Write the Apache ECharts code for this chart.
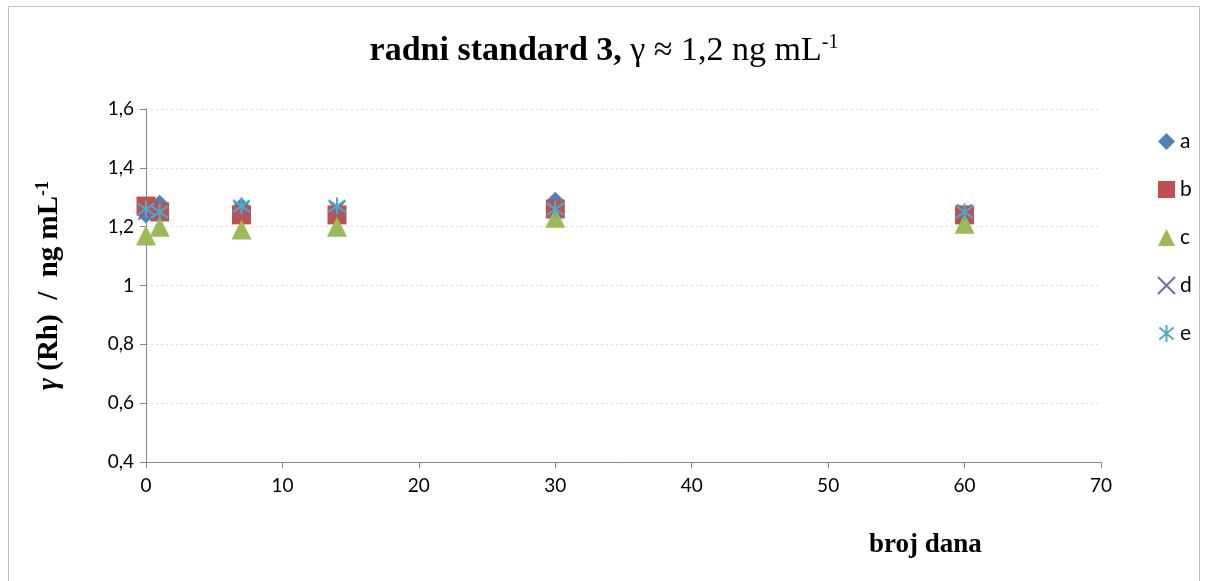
<!DOCTYPE html>
<html>
<head>
<meta charset="utf-8">
<script src="https://cdn.jsdelivr.net/npm/echarts@6/dist/echarts.min.js"></script>
<style>
  html, body { margin: 0; padding: 0; background: #fff; }
  #chart { width: 1208px; height: 581px; }
</style>
</head>
<body>
<div id="chart"></div>
<script>
// dani mjerenja
const days = [0, 1, 7, 14, 30, 60];
// izmjerene koncentracije po seriji
const seriesA = [1.24, 1.28, 1.27, 1.24, 1.29, 1.24];
const seriesB = [1.27, 1.25, 1.24, 1.24, 1.26, 1.24];
const seriesC = [1.17, 1.20, 1.19, 1.20, 1.23, 1.21];
const seriesD = [1.25, 1.25, 1.26, 1.26, 1.26, 1.25];
const seriesE = [1.26, 1.25, 1.27, 1.27, 1.26, 1.25];
const seriesNames = ['a', 'b', 'c', 'd', 'e'];
const yTicks = [0.4, 0.6, 0.8, 1, 1.2, 1.4, 1.6];
const xTicks = [0, 10, 20, 30, 40, 50, 60, 70];

const labelFont = 'Lato, "Liberation Sans", sans-serif';
const serif = '"Liberation Serif", "DejaVu Serif", serif';

const crossPath = 'path://M0,0 L10,10 M10,0 L0,10';
const starPath = 'path://M5,0 L5,10 M0.8,1.5 L9.2,8.5 M9.2,1.5 L0.8,8.5';

const toPoints = vals => vals.map((v, i) => [days[i], v]);

const styles = [
    { symbol: 'diamond', symbolSize: 17, itemStyle: { color: '#4F81BD', opacity: 1 } },
    { symbol: 'rect', symbolSize: 19, itemStyle: { color: '#C0504D', opacity: 1 } },
    { symbol: 'triangle', symbolSize: 20, itemStyle: { color: '#9BBB59', opacity: 1 } },
    { symbol: crossPath, symbolSize: 15, itemStyle: { color: 'rgba(0,0,0,0)', borderColor: '#8064A2', borderWidth: 2, opacity: 1 } },
    { symbol: starPath, symbolSize: 17, itemStyle: { color: 'rgba(0,0,0,0)', borderColor: '#4BACC6', borderWidth: 2, opacity: 1 } }
];
const allData = [seriesA, seriesB, seriesC, seriesD, seriesE];

const chart = echarts.init(document.getElementById('chart'));
chart.setOption({
    animation: false,
    backgroundColor: '#fff',
    title: {
        text: '{b|radni standard 3, }{n|γ ≈ 1,2 ng mL}{s|-1}',
        left: 'center',
        top: 28,
        textStyle: {
            rich: {
                b: { fontFamily: serif, fontWeight: 'bold', fontSize: 34, color: '#000' },
                n: { fontFamily: serif, fontWeight: 'normal', fontSize: 34, color: '#000' },
                s: { fontFamily: serif, fontWeight: 'normal', fontSize: 20, color: '#000', verticalAlign: 'top', padding: [0, 0, 16, 0] }
            }
        }
    },
    legend: {
        orient: 'vertical',
        left: 1152,
        top: 126,
        itemGap: 27,
        itemWidth: 17,
        itemHeight: 17,
        textStyle: { fontFamily: labelFont, fontSize: 21, color: '#000' },
        data: seriesNames
    },
    grid: { left: 146, right: 107, top: 109, bottom: 119 },
    xAxis: {
        type: 'value',
        min: xTicks[0],
        max: xTicks[xTicks.length - 1],
        interval: 10,
        axisLine: { lineStyle: { color: '#868686' } },
        axisTick: { show: true, length: 6, lineStyle: { color: '#868686' } },
        axisLabel: { fontFamily: labelFont, fontSize: 19, color: '#000', margin: 14 },
        splitLine: { show: false }
    },
    yAxis: {
        type: 'value',
        min: yTicks[0],
        max: yTicks[yTicks.length - 1],
        interval: 0.2,
        axisLine: { show: true, lineStyle: { color: '#868686' } },
        axisTick: { show: true, length: 6, lineStyle: { color: '#868686' } },
        axisLabel: {
            fontFamily: labelFont, fontSize: 19, color: '#000', margin: 12,
            formatter: v => String(Math.round(v * 10) / 10).replace('.', ',')
        },
        splitLine: { lineStyle: { color: '#d9d9d9', type: [2, 3] } },
        name: '{i|γ }{b|(Rh)  /  ng mL}{s|-1}',
        nameLocation: 'middle',
        nameRotate: 90,
        nameGap: 80,
        nameTextStyle: {
            rich: {
                i: { fontFamily: serif, fontStyle: 'italic', fontWeight: 'bold', fontSize: 29, color: '#000' },
                b: { fontFamily: serif, fontWeight: 'bold', fontSize: 29, color: '#000' },
                s: { fontFamily: serif, fontWeight: 'bold', fontSize: 18, color: '#000', verticalAlign: 'top', padding: [0, 0, 14, 0] }
            }
        }
    },
    graphic: [
        {
            type: 'rect',
            shape: { x: 8.5, y: 6.5, width: 1191, height: 580 },
            style: { fill: 'none', stroke: '#bfbfbf', lineWidth: 1 },
            silent: true
        },
        {
            type: 'text',
            left: 869,
            top: 532,
            style: { text: 'broj dana', font: 'bold 27px ' + serif, fill: '#000' }
        }
    ],
    series: seriesNames.map((name, i) => ({
        name,
        type: 'scatter',
        data: toPoints(allData[i]),
        ...styles[i]
    }))
});
</script>
</body>
</html>
